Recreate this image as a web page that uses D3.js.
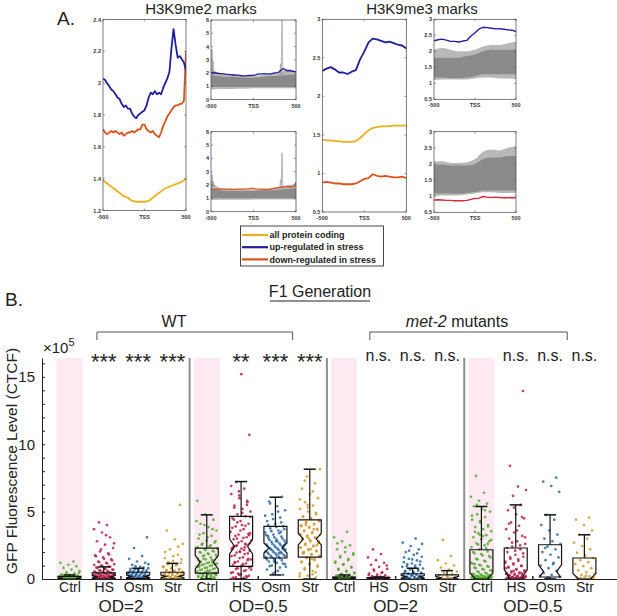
<!DOCTYPE html>
<html>
<head>
<meta charset="utf-8">
<script src="https://cdn.jsdelivr.net/npm/d3@7"></script>
<style>
body { margin: 0; background: #fff; }
svg { display: block; }
text { font-family: "Liberation Sans", Arial, sans-serif; fill: #222; }
</style>
</head>
<body>
<div id="chart"></div>
<script>
// ---------- A: ChIP profiles around the TSS ----------
var posFine = [-500,-475,-450,-425,-400,-375,-350,-325,-300,-275,-250,-225,-200,-175,-150,-125,-100,-75,-50,-25,0,
               25,50,75,100,125,150,175,200,225,250,275,300,325,350,375,400,425,450,475,500];
var posCoarse = [-500,-450,-400,-350,-300,-250,-200,-150,-100,-50,0,50,100,150,200,250,300,350,400,450,500];
var posBand = [-500,-400,-300,-200,-100,0,100,200,300,400,500];

var me2Up = [2.03,2.02,2.00,1.98,1.96,1.95,1.93,1.91,1.90,1.87,1.85,1.86,1.84,1.84,1.81,1.79,1.78,1.80,1.81,1.82,1.83,
             1.86,1.91,1.94,1.93,1.95,1.93,1.94,1.93,1.97,2.00,2.03,2.07,2.22,2.34,2.24,2.16,2.17,2.15,2.13,2.08];
var me2Down = [1.71,1.69,1.68,1.69,1.70,1.69,1.70,1.69,1.68,1.69,1.67,1.68,1.69,1.69,1.70,1.69,1.70,1.71,1.71,1.74,1.74,
               1.71,1.70,1.69,1.70,1.68,1.67,1.66,1.69,1.73,1.76,1.79,1.81,1.83,1.85,1.86,1.86,1.87,1.87,1.89,2.20];
var me2All = [1.39,1.37,1.35,1.33,1.31,1.29,1.28,1.26,1.255,1.255,1.255,1.26,1.28,1.30,1.32,1.34,1.35,1.36,1.37,1.38,1.40];

var me3Up = [2.33,2.36,2.38,2.35,2.31,2.31,2.29,2.32,2.34,2.48,2.58,2.70,2.75,2.74,2.72,2.70,2.71,2.69,2.67,2.66,2.62];
var me3All = [1.44,1.43,1.43,1.42,1.42,1.41,1.41,1.41,1.42,1.46,1.51,1.56,1.59,1.60,1.61,1.61,1.615,1.62,1.62,1.62,1.62];
var me3Down = [0.88,0.89,0.88,0.87,0.87,0.86,0.86,0.86,0.87,0.90,0.93,0.94,0.99,0.97,0.96,0.97,0.96,0.95,0.95,0.96,0.94];

// envelopes of the gray per-gene traces: outer low, inner low, inner high, outer high
var me2UpBand = [[0.75,0.80,0.80,0.82,0.82,0.85,0.85,0.85,0.85,0.85,0.85],
                 [0.95,0.95,0.95,0.95,0.95,0.95,0.95,0.95,0.95,0.95,0.95],
                 [1.85,1.75,1.70,1.70,1.65,1.65,1.70,1.75,1.80,1.85,1.90],
                 [2.40,2.00,1.90,1.85,1.80,1.80,1.85,1.90,2.00,2.30,2.10]];
var me2UpSpikes = [[-488,3.8],[-475,2.9],[318,2.7],[335,6.0]];
var me2DownBand = [[0.85,0.90,0.90,0.90,0.90,0.92,0.92,0.92,0.92,0.92,0.92],
                   [1.00,1.00,1.00,1.00,1.00,1.00,1.00,1.00,1.00,1.00,1.00],
                   [1.75,1.60,1.55,1.55,1.55,1.55,1.60,1.60,1.65,1.70,1.75],
                   [2.30,1.80,1.70,1.70,1.65,1.65,1.70,1.75,1.85,2.00,2.05]];
var me2DownSpikes = [[-488,2.8],[-475,2.3],[318,2.4],[335,4.4]];
var me3UpBand = [[1.10,1.12,1.12,1.12,1.12,1.15,1.18,1.18,1.15,1.15,1.12],
                 [1.18,1.18,1.16,1.16,1.18,1.22,1.28,1.28,1.28,1.28,1.28],
                 [1.80,1.80,1.80,1.80,1.85,1.90,2.00,2.05,2.05,2.05,2.05],
                 [2.05,2.10,2.05,2.00,2.00,2.05,2.15,2.20,2.20,2.25,2.30]];
var me3DownBand = [[1.00,1.02,1.02,1.02,1.05,1.08,1.12,1.12,1.10,1.10,1.10],
                   [1.08,1.08,1.08,1.08,1.10,1.13,1.18,1.18,1.18,1.18,1.18],
                   [1.98,1.98,1.95,1.95,1.95,2.00,2.15,2.20,2.20,2.25,2.25],
                   [2.08,2.08,2.03,2.03,2.05,2.15,2.38,2.45,2.42,2.50,2.55]];

var me2BigTicks = [1.2,1.4,1.6,1.8,2,2.2,2.4];
var me2SmallTicks = [0,1,2,3,4,5,6];
var me3Ticks = [0.5,1,1.5,2,2.5,3];
var legendNames = ["all protein coding","up-regulated in stress","down-regulated in stress"];

// ---------- B: GFP fluorescence (x 10^5) ----------
var catLabels = ["Ctrl","HS","Osm","Str","Ctrl","HS","Osm","Str","Ctrl","HS","Osm","Str","Ctrl","HS","Osm","Str"];
var catIdx = [1,2,3,4,5,6,7,8,9,10,11,12,13,14,15,16];
var sigLabels = ["","***","***","***","","**","***","***","","n.s.","n.s.","n.s.","","n.s.","n.s.","n.s."];
var odLabels = ["OD=2","OD=0.5","OD=2","OD=0.5"];
var odPos = [2.5,6.5,10.5,14.5];
var yTickVals = [0,1,2,3,4,5,6,7,8,9,10,11,12,13,14,15,16];
var yTickLabels = [0,5,10,15];

var q1      = [0,0,0.05,0,0.44,0.93,1.56,1.63,0,0,0,0,0,0,0.15,0];
var median  = [0.05,0.15,0.2,0.2,1.25,2.41,2.3,2.96,0.05,0.03,0.15,0.1,0.05,0.1,0.55,0.05];
var q3      = [0.2,0.45,0.5,0.5,2.29,4.64,3.9,4.39,0.15,0.1,0.39,0.3,2.17,2.3,2.54,1.56];
var whiskLo = [0,0,0,0,0,0,0.3,0,0,0,0,0,0,0,0,0];
var whiskHi = [0.3,0.9,0.8,1.16,4.76,7.23,6.07,8.15,0.3,0.15,0.8,0.62,5.38,5.5,4.76,3.28];
var notch   = [0.05,0.1,0.1,0.1,0.5,0.55,0.37,0.43,0.05,0.05,0.1,0.1,0.4,0.6,0.5,0.35];

var ctrlWT2 = [0.01,0.02,0.03,0.04,0.05,0.06,0.07,0.08,0.09,0.1,0.12,0.14,0.16,0.18,0.2,0.22,0.25,0.3,0.35,0.42,0.5,0.6,0.7,0.82,0.95,1.05,1.2,1.3,0.03,0.05,0.08,0.11,
               0.02,0.04,0.06,0.09,0.13,0.15,0.19,0.24,0.28,0.38,0.46];
var hsWT2 = [0.02,0.04,0.06,0.08,0.1,0.12,0.15,0.18,0.2,0.22,0.25,0.28,0.3,0.33,0.36,0.4,0.44,0.48,0.52,0.56,0.6,0.65,0.7,0.78,0.85,0.92,1.0,1.1,1.2,1.3,1.45,1.6,1.75,1.9,2.05,2.3,2.55,2.8,3.1,3.45,3.7,4.0,4.2,0.03,0.07,0.13,0.17,0.24,0.31,0.05,0.09,
             0.01,0.03,0.05,0.08,0.11,0.14,0.16,0.19,0.21,0.26,0.29,0.34,0.38,0.42,0.46,0.5,0.55,0.62,0.68,0.75,0.82,0.9,0.97,1.05,1.15,1.25,1.38,1.5,1.68,1.82,2.2,2.65,3.25];
var osmWT2 = [0.03,0.05,0.08,0.1,0.12,0.15,0.18,0.2,0.23,0.26,0.3,0.33,0.36,0.4,0.45,0.5,0.55,0.6,0.66,0.72,0.8,0.9,1.05,1.2,1.3,1.5,1.7,2.3,3.1,0.06,0.14,0.22,0.28,
              0.02,0.04,0.07,0.09,0.11,0.13,0.17,0.21,0.25,0.29,0.34,0.38,0.43,0.48,0.53,0.58,0.64,0.7,0.76,0.85,0.95,1.1];
var strWT2 = [0.02,0.05,0.08,0.1,0.13,0.16,0.2,0.24,0.28,0.32,0.36,0.4,0.45,0.5,0.56,0.62,0.7,0.78,0.88,1.0,1.1,1.2,1.35,1.55,1.8,2.2,2.6,2.95,3.6,5.5,0.04,0.09,0.15,0.22,0.3,
              0.01,0.03,0.06,0.11,0.14,0.18,0.23,0.26,0.34,0.38,0.43,0.48,0.53,0.6,0.66,0.74,0.82,0.93,1.05,1.25,1.45,1.7,2.0,2.4];
var ctrlWT05 = [0.0,0.05,0.1,0.15,0.2,0.25,0.3,0.35,0.4,0.45,0.5,0.55,0.62,0.7,0.78,0.85,0.92,1.0,1.08,1.15,1.22,1.3,1.38,1.45,1.52,1.6,1.7,1.8,1.9,2.0,2.1,2.2,2.3,2.42,2.55,2.7,2.85,3.0,3.2,3.4,3.6,3.85,4.1,4.4,4.8,5.8,0.08,0.18,0.33,0.6,0.95,1.25,1.75,2.25,
                0.02,0.07,0.12,0.17,0.22,0.28,0.38,0.48,0.58,0.68,0.75,0.82,0.9,0.98,1.05,1.12,1.18,1.35,1.42,1.5,1.65,1.85,1.95,2.05,2.15,2.35,2.5,2.62,2.8,3.1,3.3,3.7,4.0,4.3];
var hsWT05 = [0.0,0.05,0.15,0.3,0.45,0.6,0.75,0.85,0.95,1.05,1.15,1.3,1.45,1.6,1.75,1.9,2.05,2.2,2.35,2.5,2.65,2.8,2.95,3.1,3.3,3.5,3.7,3.9,4.1,4.3,4.5,4.65,4.8,5.0,5.2,5.45,5.7,6.0,6.3,6.7,7.2,10.7,15.2,0.1,0.2,0.4,0.7,1.0,1.2,1.5,2.0,2.3,2.6,3.0,3.4,4.0,4.4,5.5,6.5,0.02,0.08,
              0.12,0.25,0.35,0.5,0.65,0.8,0.9,1.1,1.25,1.4,1.55,1.7,1.85,1.95,2.1,2.25,2.4,2.55,2.7,2.85,3.05,3.2,3.35,3.6,3.8,3.95,4.2,4.6,4.9,5.3,5.8,6.2,6.9,2.15,2.45,3.25];
var osmWT05 = [0.3,0.5,0.7,0.85,1.0,1.1,1.2,1.3,1.4,1.5,1.58,1.65,1.72,1.8,1.88,1.95,2.02,2.1,2.18,2.25,2.32,2.4,2.48,2.56,2.65,2.75,2.85,2.95,3.05,3.15,3.3,3.45,3.6,3.75,3.9,4.1,4.3,4.55,4.8,5.1,5.4,5.75,6.1,1.35,1.6,1.9,2.2,2.5,2.8,3.2,3.5,0.4,0.9,
               0.6,0.95,1.15,1.25,1.45,1.55,1.62,1.68,1.75,1.85,1.92,1.98,2.05,2.15,2.22,2.28,2.35,2.45,2.52,2.6,2.7,2.8,2.9,3.0,3.1,3.25,3.4,3.55,3.7,3.85,4.0,4.2,4.45,4.7,5.0,5.6];
var strWT05 = [0.0,0.1,0.25,0.4,0.6,0.8,1.0,1.15,1.3,1.45,1.6,1.72,1.85,1.98,2.1,2.22,2.35,2.48,2.6,2.72,2.85,2.98,3.1,3.22,3.35,3.48,3.6,3.72,3.85,3.98,4.1,4.22,4.35,4.5,4.65,4.8,5.0,5.2,5.45,5.7,6.0,6.3,6.7,7.1,7.6,8.15,1.5,2.0,2.5,3.0,3.3,3.7,4.0,2.8,2.2,1.9,0.5,5.5,
               0.2,0.35,0.7,0.9,1.1,1.25,1.4,1.55,1.68,1.8,1.92,2.05,2.15,2.3,2.42,2.55,2.65,2.78,2.9,3.05,3.15,3.28,3.4,3.55,3.65,3.8,3.92,4.05,4.15,4.3,4.45,4.6,4.9,5.3,5.9,6.5,7.3];
var ctrlM2 = [0.0,0.01,0.02,0.03,0.04,0.05,0.06,0.07,0.08,0.1,0.12,0.14,0.16,0.2,0.25,0.3,0.38,0.48,0.6,0.75,0.9,1.05,1.2,1.4,1.6,1.8,2.0,2.2,2.5,2.8,3.1,3.5,0.02,0.05,0.09,0.13,
              0.01,0.02,0.03,0.04,0.06,0.07,0.08,0.1,0.11,0.12,0.15,0.18,0.22,0.28,0.34,0.42,0.55,0.7,0.85,1.1,1.3,1.5,1.7,1.9,2.35,2.65];
var hsM2 = [0.0,0.01,0.02,0.03,0.04,0.05,0.06,0.08,0.1,0.12,0.15,0.18,0.22,0.27,0.33,0.4,0.5,0.62,0.75,0.9,1.05,1.2,1.4,1.6,1.85,2.2,0.02,0.04,0.07,
            0.01,0.03,0.05,0.09,0.11,0.14,0.2,0.3,0.45,0.7,1.0];
var osmM2 = [0.0,0.03,0.06,0.1,0.14,0.18,0.22,0.26,0.3,0.35,0.4,0.45,0.5,0.56,0.62,0.7,0.78,0.86,0.95,1.05,1.15,1.25,1.38,1.5,1.65,1.8,2.0,2.2,2.45,2.7,3.0,0.08,0.2,0.32,0.48,
             0.02,0.05,0.09,0.12,0.16,0.2,0.24,0.28,0.33,0.38,0.43,0.52,0.6,0.68,0.75,0.9,1.0,1.1,1.3,1.45,1.6,1.9,2.1,2.6];
var strM2 = [0.0,0.03,0.06,0.1,0.15,0.2,0.28,0.36,0.45,0.55,0.7,0.85,1.0,1.15,1.4,1.7,2.9,0.05,0.12];
var ctrlM05 = [0.0,0.02,0.04,0.06,0.08,0.1,0.12,0.15,0.18,0.2,0.25,0.3,0.35,0.4,0.5,0.6,0.7,0.8,0.9,1.0,1.15,1.3,1.45,1.6,1.75,1.9,2.05,2.2,2.35,2.5,2.65,2.8,2.95,3.1,3.25,3.4,3.55,3.7,3.85,4.0,4.2,4.4,4.6,4.8,5.0,5.2,5.4,5.6,5.8,6.1,6.4,7.65,0.03,0.07,0.11,0.16,0.22,0.05,0.09,1.1,2.6,3.3,
               0.01,0.03,0.05,0.06,0.08,0.1,0.13,0.14,0.17,0.19,0.23,0.27,0.32,0.38,0.45,0.55,0.65,0.75,0.85,0.95,1.05,1.2,1.35,1.5,1.7,1.85,2.0,2.3,2.55,2.9,3.2,3.5,3.9,4.3,4.7,5.1,5.5];
var hsM05 = [0.0,0.02,0.04,0.06,0.08,0.1,0.13,0.16,0.2,0.24,0.28,0.33,0.38,0.44,0.5,0.57,0.65,0.74,0.84,0.95,1.08,1.2,1.35,1.5,1.65,1.8,2.0,2.2,2.4,2.6,2.8,3.0,3.2,3.45,3.7,3.95,4.2,4.5,4.8,5.1,5.5,6.17,6.6,6.86,8.4,13.95,0.03,0.05,0.07,0.11,0.15,0.19,0.3,0.42,0.6,0.8,
             0.01,0.02,0.04,0.05,0.07,0.09,0.12,0.14,0.17,0.22,0.26,0.31,0.36,0.41,0.48,0.55,0.7,0.9,1.0,1.15,1.3,1.45,1.6,1.9,2.1,2.3,2.5,2.7,3.1,3.6,4.1,4.6,5.3];
var osmM05 = [0.05,0.15,0.3,0.45,0.6,0.8,1.0,1.2,1.4,1.6,1.8,2.0,2.2,2.4,2.6,2.8,3.0,3.3,3.6,4.0,4.4,4.76,6.47,6.9,7.23,7.53,0.1,0.25,1.1,2.3];
var strM05 = [0.0,0.03,0.06,0.1,0.15,0.2,0.3,0.4,0.5,0.65,0.8,0.95,1.1,1.25,1.4,1.55,1.75,1.95,2.2,2.45,2.7,3.0,3.3,3.6,4.0,4.4,4.56,0.05,0.12,0.25];

var dotSets = [ctrlWT2,hsWT2,osmWT2,strWT2,ctrlWT05,hsWT05,osmWT05,strWT05,
               ctrlM2,hsM2,osmM2,strM2,ctrlM05,hsM05,osmM05,strM05];

var colBlue = "#1f1f9e", colOrange = "#d9541a", colYellow = "#ecb01f", colRed = "#d42b3a";
var dotColors = {Ctrl: "#4fae2a", HS: "#b8204a", Osm: "#2a68a4", Str: "#d49a30"};

var svg = d3.select("#chart").append("svg")
  .attr("width", 617)
  .attr("height", 616);

// ---------- panel helper ----------
var clipN = 0;
function makePanel(box, yDomain, yTicks) {
  var x = d3.scaleLinear().domain([-500, 500]).range([box.x, box.x + box.w]);
  var y = d3.scaleLinear().domain(yDomain).range([box.y + box.h, box.y]);
  var id = "clip" + (clipN++);
  svg.append("clipPath").attr("id", id)
    .append("rect").attr("x", box.x).attr("y", box.y).attr("width", box.w).attr("height", box.h);
  var g = svg.append("g");
  var inner = g.append("g").attr("clip-path", "url(#" + id + ")");

  var ax = g.append("g").attr("class", "frame");
  ax.append("rect")
    .attr("x", box.x).attr("y", box.y).attr("width", box.w).attr("height", box.h)
    .attr("fill", "none").attr("stroke", "#444").attr("stroke-width", 0.7);

  yTicks.forEach(function(t) {
    ax.append("line").attr("x1", box.x).attr("x2", box.x + 2).attr("y1", y(t)).attr("y2", y(t))
      .attr("stroke", "#444").attr("stroke-width", 0.5);
    ax.append("line").attr("x1", box.x + box.w - 2).attr("x2", box.x + box.w).attr("y1", y(t)).attr("y2", y(t))
      .attr("stroke", "#444").attr("stroke-width", 0.5);
    ax.append("text").attr("x", box.x - 2).attr("y", y(t) + 2)
      .attr("text-anchor", "end").attr("font-size", 5.5).attr("font-weight", "bold")
      .style("fill", "#333").text(t);
  });
  [-500, 0, 500].forEach(function(t) {
    ax.append("line").attr("x1", x(t)).attr("x2", x(t)).attr("y1", box.y + box.h).attr("y2", box.y + box.h - 2)
      .attr("stroke", "#444").attr("stroke-width", 0.5);
    ax.append("line").attr("x1", x(t)).attr("x2", x(t)).attr("y1", box.y).attr("y2", box.y + 2)
      .attr("stroke", "#444").attr("stroke-width", 0.5);
    ax.append("text").attr("x", x(t)).attr("y", box.y + box.h + 8)
      .attr("text-anchor", "middle").attr("font-size", 5.5).attr("font-weight", "bold")
      .style("fill", "#333").text(t === 0 ? "TSS" : t);
  });
  return {x: x, y: y, g: inner};
}

function drawLine(p, xs, vals, color, w) {
  var line = d3.line().x(function(d, i) { return p.x(xs[i]); }).y(function(d) { return p.y(d); });
  p.g.append("path").datum(vals).attr("d", line)
    .attr("fill", "none").attr("stroke", color).attr("stroke-width", w).attr("stroke-linejoin", "round");
}

function drawBand(p, band, spikes) {
  var outer = d3.area().x(function(d, i) { return p.x(posBand[i]); })
    .y0(function(d, i) { return p.y(band[0][i]); }).y1(function(d, i) { return p.y(band[3][i]); })
    .curve(d3.curveMonotoneX);
  var inner = d3.area().x(function(d, i) { return p.x(posBand[i]); })
    .y0(function(d, i) { return p.y(band[1][i]); }).y1(function(d, i) { return p.y(band[2][i]); })
    .curve(d3.curveMonotoneX);
  p.g.append("path").datum(posBand).attr("d", outer).attr("fill", "#b8b8b8");
  p.g.append("path").datum(posBand).attr("d", inner).attr("fill", "#8a8a8a");
  (spikes || []).forEach(function(s) {
    p.g.append("path")
      .attr("d", d3.line()([[p.x(s[0] - 10), p.y(1.8)], [p.x(s[0]), p.y(s[1])], [p.x(s[0] + 10), p.y(1.8)]]))
      .attr("fill", "none").attr("stroke", "#999").attr("stroke-width", 0.7);
  });
}

// ---------- A ----------
svg.append("text").attr("x", 57).attr("y", 25).attr("font-size", 19).text("A.");
svg.append("text").attr("x", 201).attr("y", 14).attr("text-anchor", "middle").attr("font-size", 15).text("H3K9me2 marks");
svg.append("text").attr("x", 422).attr("y", 14).attr("text-anchor", "middle").attr("font-size", 15).text("H3K9me3 marks");

var p1 = makePanel({x: 103, y: 19.5, w: 83, h: 191}, [1.2, 2.4], me2BigTicks);
drawLine(p1, posCoarse, me2All, colYellow, 1.8);
drawLine(p1, posFine, me2Down, colOrange, 1.8);
drawLine(p1, posFine, me2Up, colBlue, 1.8);

var p2 = makePanel({x: 211, y: 20, w: 85, h: 79.5}, [0, 6], me2SmallTicks);
drawBand(p2, me2UpBand, me2UpSpikes);
drawLine(p2, posFine, me2Up, colBlue, 1.3);

var p3 = makePanel({x: 211, y: 131.7, w: 85, h: 80}, [0, 6], me2SmallTicks);
drawBand(p3, me2DownBand, me2DownSpikes);
drawLine(p3, posFine, me2Down, colOrange, 1.3);

var p4 = makePanel({x: 322.3, y: 19.3, w: 84, h: 192.7}, [0.5, 3], me3Ticks);
drawLine(p4, posCoarse, me3All, colYellow, 1.8);
drawLine(p4, posCoarse, me3Down, colOrange, 1.8);
drawLine(p4, posCoarse, me3Up, colBlue, 1.8);

var p5 = makePanel({x: 434, y: 19.3, w: 82, h: 80}, [0.5, 3], me3Ticks);
drawBand(p5, me3UpBand);
drawLine(p5, posCoarse, me3Up, colBlue, 1.4);

var p6 = makePanel({x: 434, y: 131.7, w: 82, h: 80.6}, [0.5, 3], me3Ticks);
drawBand(p6, me3DownBand);
drawLine(p6, posCoarse, me3Down, colRed, 1.4);

// legend
var leg = svg.append("g");
leg.append("rect").attr("x", 240.5).attr("y", 226).attr("width", 143).attr("height", 40)
  .attr("fill", "#fff").attr("stroke", "#333").attr("stroke-width", 0.9);
[colYellow, colBlue, colOrange].forEach(function(c, i) {
  var yy = 235 + i * 12.2;
  leg.append("line").attr("x1", 242).attr("x2", 268).attr("y1", yy).attr("y2", yy)
    .attr("stroke", c).attr("stroke-width", 2.2);
  leg.append("text").attr("x", 269.5).attr("y", yy + 3.2).attr("font-size", 9).attr("font-weight", "bold")
    .text(legendNames[i]);
});

// ---------- B ----------
var xB = d3.scaleLinear().domain([0.2, 16.95]).range([42, 617]);
var yB = d3.scaleLinear().domain([0, 16.4]).range([579, 358]);

svg.append("text").attr("x", 5).attr("y", 306).attr("font-size", 19).text("B.");
svg.append("text").attr("x", 320).attr("y", 297).attr("text-anchor", "middle").attr("font-size", 16).text("F1 Generation");
svg.append("line").attr("x1", 270).attr("x2", 370).attr("y1", 301).attr("y2", 301).attr("stroke", "#222").attr("stroke-width", 1);
svg.append("text").attr("x", 174).attr("y", 327).attr("text-anchor", "middle").attr("font-size", 16).text("WT");
var mt = svg.append("text").attr("x", 457).attr("y", 327).attr("text-anchor", "middle").attr("font-size", 16);
mt.append("tspan").attr("font-style", "italic").text("met-2");
mt.append("tspan").text(" mutants");

// brackets over the comparisons
[[1.8, 7.5], [9.75, 15.5]].forEach(function(b) {
  svg.append("path")
    .attr("d", d3.line()([[xB(b[0]), 340], [xB(b[0]), 332], [xB(b[1]), 332], [xB(b[1]), 340]]))
    .attr("fill", "none").attr("stroke", "#555").attr("stroke-width", 1);
});

// pink control bands
catIdx.forEach(function(c, i) {
  if (catLabels[i] !== "Ctrl") return;
  svg.append("rect").attr("x", xB(c) - 13).attr("y", yB(16.4)).attr("width", 26).attr("height", yB(0) - yB(16.4))
    .attr("fill", "#fce9f1");
});

// group separators
[4.5, 8.5, 12.5].forEach(function(s) {
  svg.append("line").attr("x1", xB(s)).attr("x2", xB(s)).attr("y1", yB(16.4)).attr("y2", yB(0))
    .attr("stroke", "#8f8f8f").attr("stroke-width", 2);
});

// jittered dots
var golden = 0.618034;
catIdx.forEach(function(c, i) {
  var col = dotColors[catLabels[i]];
  svg.append("g").selectAll("circle")
    .data(dotSets[i])
    .enter()
    .append("circle")
    .attr("cx", function(d, j) { return xB(c) + (((j * golden + 0.31 * i) % 1) - 0.5) * 21; })
    .attr("cy", function(d) { return yB(d); })
    .attr("r", 1.35)
    .attr("fill", col)
    .attr("fill-opacity", 0.85);
});

// notched boxes and whiskers
var halfW = 11.5, inset = 5;
catIdx.forEach(function(c, i) {
  var xc = xB(c);
  function w(v) { return halfW - inset * Math.max(0, 1 - Math.abs(v - median[i]) / notch[i]); }
  var lo = Math.max(q1[i], median[i] - notch[i]);
  var hi = Math.min(q3[i], median[i] + notch[i]);
  var ys = [q1[i], lo, median[i], hi, q3[i]];
  var left = ys.map(function(v) { return [xc - w(v), yB(v)]; });
  var right = ys.slice().reverse().map(function(v) { return [xc + w(v), yB(v)]; });
  var g = svg.append("g").attr("stroke", "#111").attr("fill", "none").attr("stroke-width", 1.2);
  g.append("path").attr("d", d3.line()(left.concat(right)) + "Z");
  g.append("line").attr("x1", xc).attr("x2", xc).attr("y1", yB(q3[i])).attr("y2", yB(whiskHi[i]));
  g.append("line").attr("x1", xc - 6).attr("x2", xc + 6).attr("y1", yB(whiskHi[i])).attr("y2", yB(whiskHi[i])).attr("stroke-width", 1.5);
  if (whiskLo[i] < q1[i]) {
    g.append("line").attr("x1", xc).attr("x2", xc).attr("y1", yB(q1[i])).attr("y2", yB(whiskLo[i]));
    g.append("line").attr("x1", xc - 6).attr("x2", xc + 6).attr("y1", yB(whiskLo[i])).attr("y2", yB(whiskLo[i])).attr("stroke-width", 1.5);
  }
});

// axes
var yAxis = svg.append("g")
  .attr("transform", "translate(42,0)")
  .call(d3.axisLeft(yB).tickValues(yTickVals).tickSizeInner(-3).tickSizeOuter(0).tickPadding(7)
    .tickFormat(function(d) { return yTickLabels.indexOf(d) >= 0 ? d : ""; }));
yAxis.selectAll("text").attr("font-size", 15).attr("font-family", "Liberation Sans, Arial, sans-serif");
yAxis.selectAll("line, path").attr("stroke", "#222");

var xAxis = svg.append("g")
  .attr("transform", "translate(0,579)")
  .call(d3.axisBottom(xB).tickValues(catIdx).tickSize(0).tickPadding(3)
    .tickFormat(function(d, i) { return catLabels[i]; }));
xAxis.selectAll("text").attr("font-size", 14).attr("font-family", "Liberation Sans, Arial, sans-serif");
xAxis.selectAll("path").attr("stroke", "#222");

// small group-centre ticks on the x axis
odPos.forEach(function(p) {
  svg.append("line").attr("x1", xB(p)).attr("x2", xB(p)).attr("y1", 579).attr("y2", 576)
    .attr("stroke", "#222").attr("stroke-width", 1.5);
});

odLabels.forEach(function(l, i) {
  svg.append("text").attr("x", xB(odPos[i])).attr("y", 612).attr("text-anchor", "middle").attr("font-size", 17).text(l);
});

catIdx.forEach(function(c, i) {
  if (!sigLabels[i]) return;
  var star = sigLabels[i].indexOf("*") >= 0;
  svg.append("text").attr("x", xB(c)).attr("y", star ? 369 : 361).attr("text-anchor", "middle")
    .attr("font-size", star ? 22 : 16).text(sigLabels[i]);
});

var ex = svg.append("text").attr("x", 43).attr("y", 353).attr("font-size", 15);
ex.append("tspan").text("\u00d710");
ex.append("tspan").attr("dy", -7).attr("font-size", 11).text("5");

svg.append("text")
  .attr("transform", "translate(17,461) rotate(-90)")
  .attr("text-anchor", "middle").attr("font-size", 15.5)
  .text("GFP Fluorescence Level (CTCF)");
</script>
</body>
</html>
